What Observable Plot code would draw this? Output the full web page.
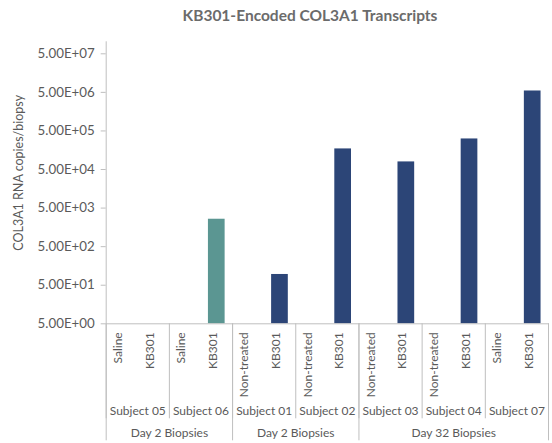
<!DOCTYPE html>
<html>
<head>
<meta charset="utf-8">
<script src="https://cdn.jsdelivr.net/npm/d3@7"></script>
<script src="https://cdn.jsdelivr.net/npm/@observablehq/plot@0.6"></script>
<style>
  body { margin: 0; background: #fff; font-family: Lato, "Open Sans", sans-serif; }
  #title { height: 30px; line-height: 30px; padding-left: 68px; width: 484px; text-align: center;
           font-weight: bold; font-size: 15.5px; color: #6b6b6b; }
</style>
</head>
<body>
<div id="title">KB301-Encoded COL3A1 Transcripts</div>
<div id="chart"></div>
<script>
// ---- data ----
const subjects = ["Subject 05", "Subject 06", "Subject 01", "Subject 02", "Subject 03", "Subject 04", "Subject 07"];
const treatments = ["Saline", "KB301", "Saline", "KB301", "Non-treated", "KB301", "Non-treated", "KB301",
                    "Non-treated", "KB301", "Non-treated", "KB301", "Saline", "KB301"];
const copies = [null, null, null, 2570, null, 95, null, 171000, null, 78700, null, 310000, null, 5430000];
const cohort = ["A", "A", "A", "A", "B", "B", "B", "B", "B", "B", "B", "B", "B", "B"];
const dayLabels = ["Day 2 Biopsies", "Day 2 Biopsies", "Day 32 Biopsies"];
const daySubjectCounts = [2, 2, 3];
const yTicks = [5, 50, 500, 5000, 50000, 500000, 5000000, 50000000];
const yLabel = "COL3A1 RNA copies/biopsy";

// ---- derived tables ----
const perSubject = treatments.length / subjects.length;
const cats = treatments.map((t, i) => ({i, label: t, value: copies[i], cohort: cohort[i]}));
const bars = cats.filter(d => d.value != null);
const subjRows = subjects.map((s, j) => ({label: s, start: j * perSubject, end: (j + 1) * perSubject}));
let acc = 0;
const dayRows = dayLabels.map((l, k) => {
  const start = acc * perSubject; acc += daySubjectCounts[k];
  return {label: l, start, end: acc * perSubject};
});
const subjBounds = [0, ...subjRows.map(d => d.end)];
const dayBounds = [0, ...dayRows.map(d => d.end)];

const fmt = d => {
  const [m, e] = d.toExponential(2).toUpperCase().split("E");
  return m + "E" + e[0] + e.slice(1).padStart(2, "0");
};

const gray = "#bfbfbf";
const textGray = "#5a5a5a";
const fs = 12;

const plot = Plot.plot({
  width: 552,
  height: 413,
  marginLeft: 105.7,
  marginRight: 4,
  marginTop: 23.3,
  marginBottom: 119.7,
  style: {fontFamily: "Lato, 'Open Sans', sans-serif", color: textGray, background: "#fff"},
  x: {type: "linear", domain: [0, treatments.length], axis: null},
  y: {type: "log", domain: [5, 5e7], axis: null},
  color: {domain: ["A", "B"], range: ["#5b9692", "#2c4577"]},
  marks: [
    Plot.rectY(bars, {x1: d => d.i, x2: d => d.i + 1, y1: 5, y2: "value", fill: "cohort", insetLeft: 7.45, insetRight: 7.45}),
    Plot.tickY(yTicks, {y: d => d, stroke: gray, frameAnchor: "left", insetLeft: -5, insetRight: 442.3}),
    Plot.text(yTicks, {y: d => d, text: fmt, frameAnchor: "left", textAnchor: "end", dx: -11.5, fontSize: 13.3, fill: textGray}),
    Plot.ruleY([5], {stroke: gray}),
    Plot.ruleX([0], {stroke: gray, insetTop: -12}),
    // category labels (rotated)
    Plot.text(cats, {x: d => d.i + 0.5, text: "label", frameAnchor: "bottom", rotate: -90, textAnchor: "end",
                     dy: 8.5, fontSize: 12, fill: textGray}),
    // subject separators
    Plot.ruleX(subjBounds, {x: d => d, stroke: gray, insetTop: 270, insetBottom: -95}),
    // day separators
    Plot.ruleX(dayBounds, {x: d => d, stroke: gray, insetTop: 270, insetBottom: -117}),
    Plot.text(subjRows, {x: d => (d.start + d.end) / 2, text: "label", frameAnchor: "bottom", dy: 91,
                         fontSize: fs, fill: textGray}),
    Plot.text(dayRows, {x: d => (d.start + d.end) / 2, text: "label", frameAnchor: "bottom", dy: 113,
                        fontSize: fs, fill: textGray}),
    Plot.text([yLabel], {frameAnchor: "left", rotate: -90, textAnchor: "middle", dx: -87.5, dy: -16,
                         fontSize: 12.5, fill: textGray})
  ]
});
document.getElementById("chart").appendChild(plot);
</script>
</body>
</html>
